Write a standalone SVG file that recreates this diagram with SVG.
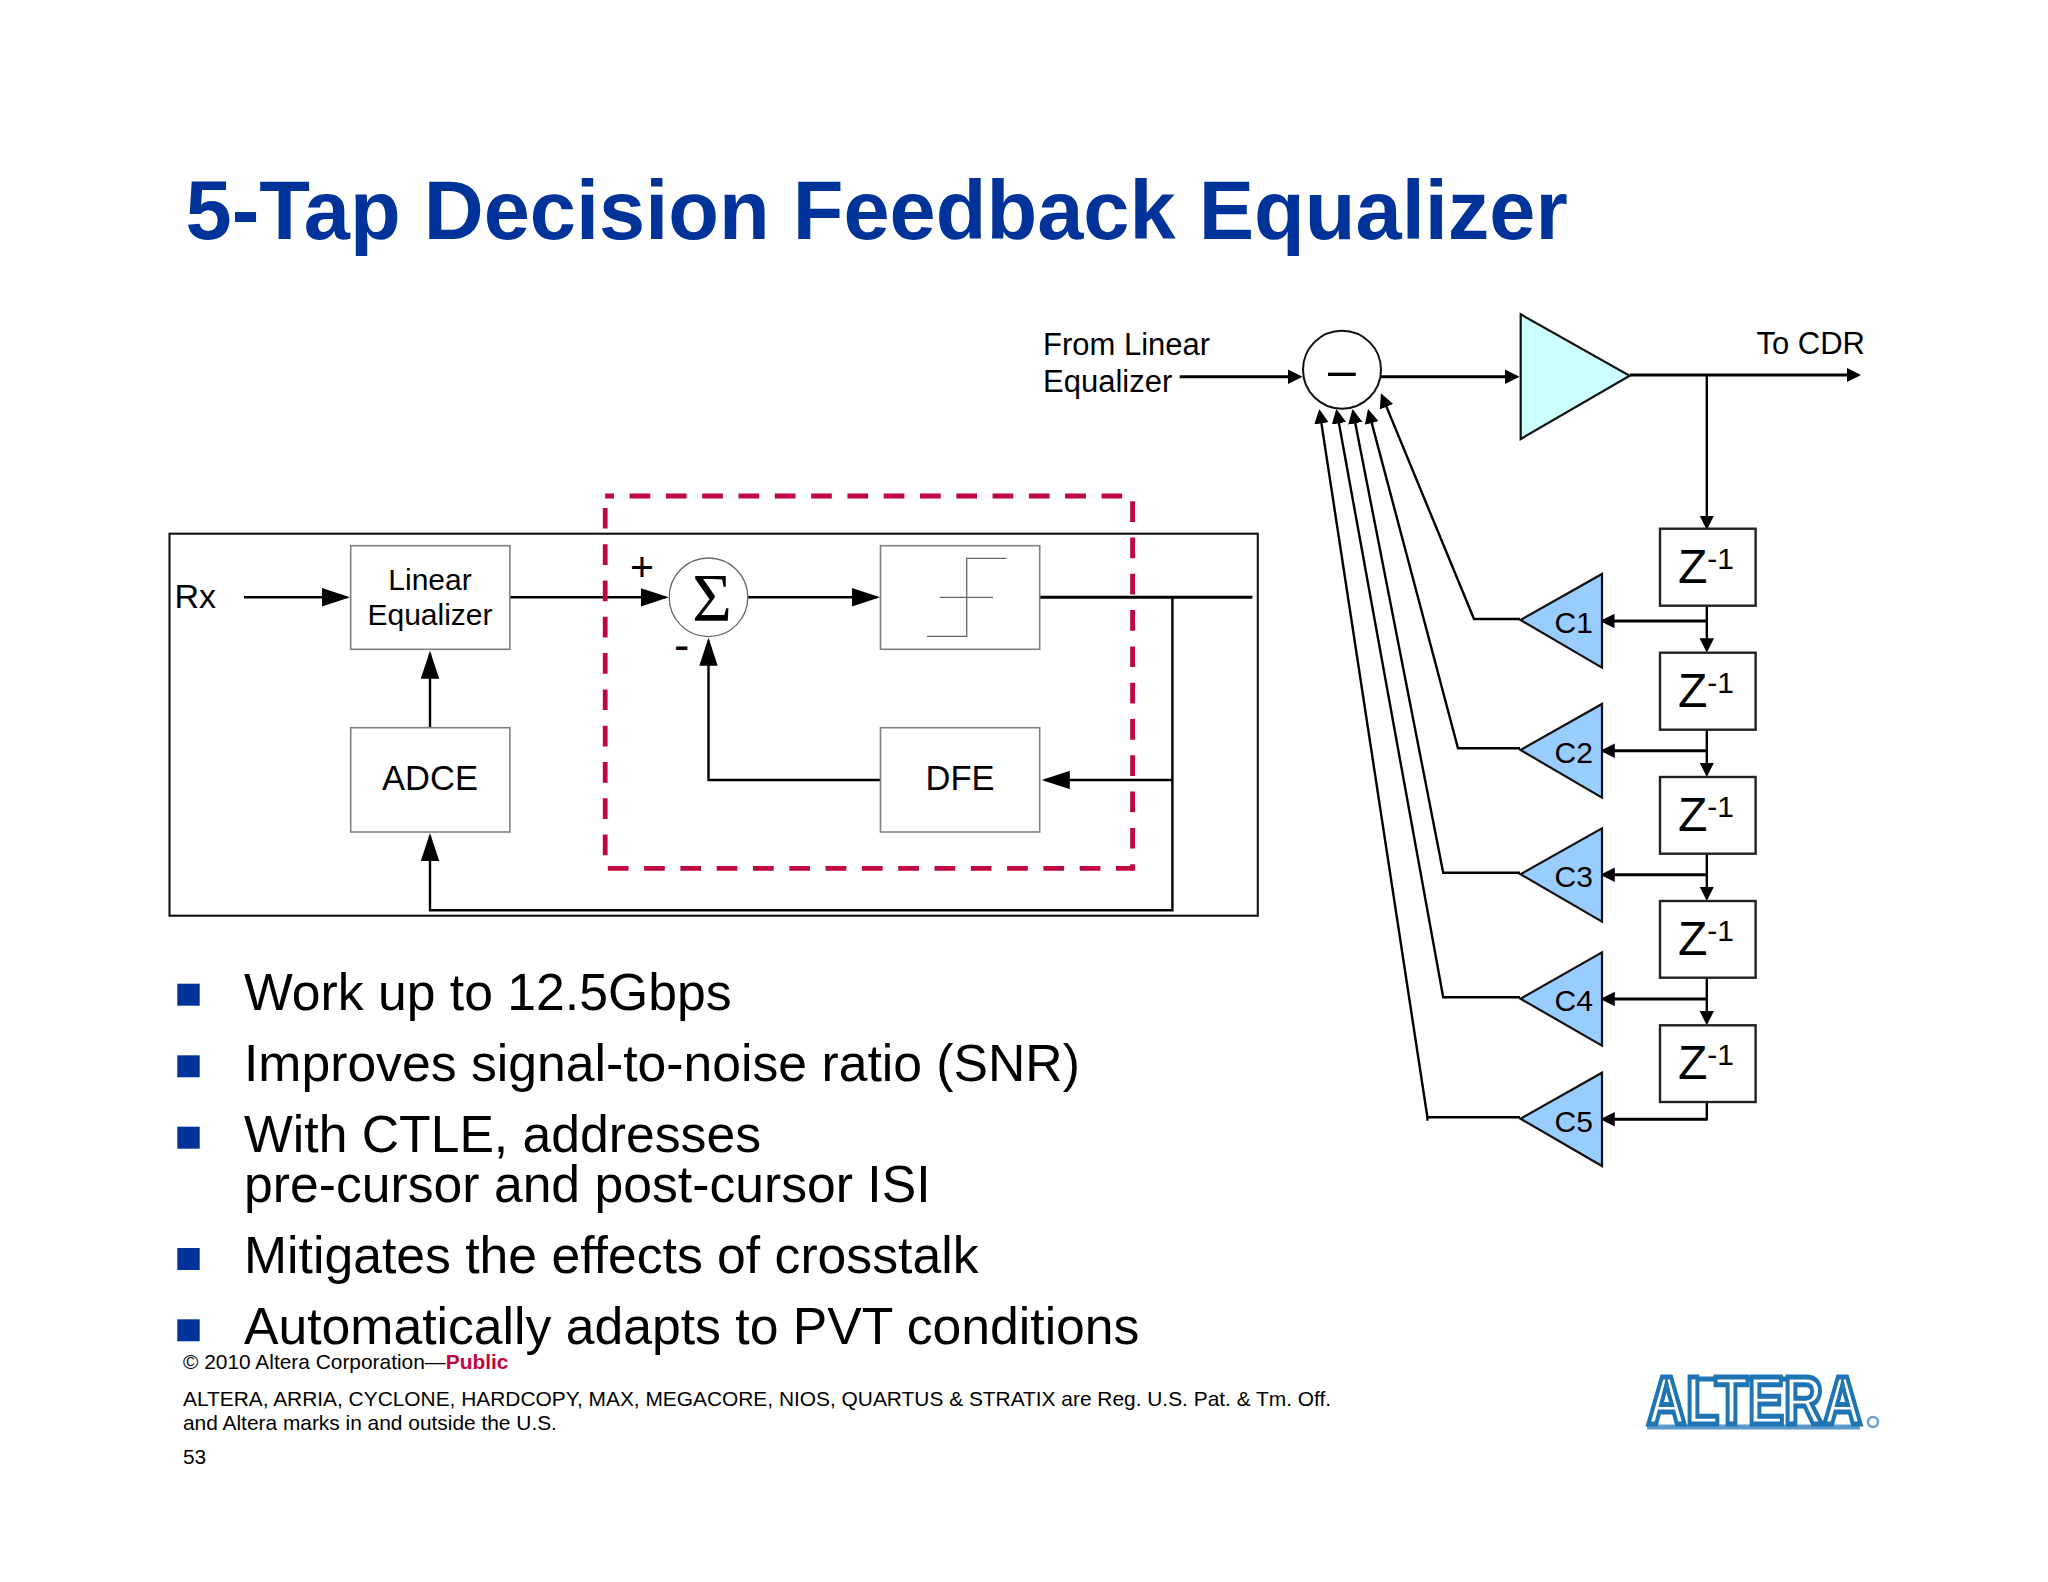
<svg xmlns="http://www.w3.org/2000/svg" width="2048" height="1582" viewBox="0 0 2048 1582">
<style>
text{font-family:"Liberation Sans",Arial,sans-serif;fill:#000}
.title{font-size:83px;font-weight:700;fill:#003399}
.bul{font-size:51.7px}
.foot{font-size:20.9px}
.lbl{font-size:31px}
.eq{font-size:30px}
.big{font-size:34.5px}
.m{text-anchor:middle}
.box{fill:#fff;stroke:#808080;stroke-width:1.6}
.zbox{fill:#fff;stroke:#222;stroke-width:2.4}
.tap{fill:#99ccff;stroke:#111;stroke-width:2.2}
.taptxt{font-size:30px}
.z{font-size:48px}
.zs{font-size:30px}
.sq{fill:#003399}
.c path,.c polyline,.c line{fill:none;stroke:#000}
.w1{stroke-width:2.4}
.w2{stroke-width:3}
.thin{fill:none;stroke:#666;stroke-width:1.3}
</style>
<defs>
<marker id="s" markerUnits="userSpaceOnUse" markerWidth="16" markerHeight="16" refX="11.5" refY="7.25" orient="auto"><path d="M0,0L14.5,7.25L0,14.5Z" fill="#000"/></marker>
<marker id="l" markerUnits="userSpaceOnUse" markerWidth="30" markerHeight="20" refX="25" refY="9.2" orient="auto"><path d="M0,0L28,9.2L0,18.4Z" fill="#000"/></marker>
</defs>
<rect width="2048" height="1582" fill="#fff"/>
<text class="title" x="185.5" y="238.5">5-Tap Decision Feedback Equalizer</text>

<g id="outer-frame"><rect x="169.5" y="533.7" width="1088.3" height="382" fill="none" stroke="#111" stroke-width="2.1"/></g>

<g id="connectors" class="c">
<path class="w1" d="M244,597.3H347" marker-end="url(#l)"/>
<path class="w1" d="M510,597.3H665.7" marker-end="url(#l)"/>
<path class="w1" d="M748,597.3H877" marker-end="url(#l)"/>
<path class="w2" d="M1040,597.3H1252.4"/>
<path class="w1" d="M430,727.7V653.7" marker-end="url(#l)"/>
<path class="w1" d="M1172.4,597.3V910.3H430V836" marker-end="url(#l)"/>
<path class="w1" d="M1172.4,780H1044.8" marker-end="url(#l)"/>
<path class="w1" d="M880.5,780H708.5V640.7" marker-end="url(#l)"/>
<path class="w2" d="M1179.7,376.7H1299.5" marker-end="url(#s)"/>
<path class="w2" d="M1381,376.7H1516.5" marker-end="url(#s)"/>
<path class="w2" d="M1630,375H1858" marker-end="url(#s)"/>
<path class="w1" d="M1706.8,375V527" marker-end="url(#s)"/>
<path class="w1" d="M1706.8,605.7V649.7" marker-end="url(#s)"/>
<path class="w1" d="M1706.8,729.7V774" marker-end="url(#s)"/>
<path class="w1" d="M1706.8,853.7V898" marker-end="url(#s)"/>
<path class="w1" d="M1706.8,977.7V1022.3" marker-end="url(#s)"/>
<path class="w1" d="M1706.8,1102V1120.5"/>
<path class="w2" d="M1706.8,621H1603" marker-end="url(#s)"/>
<path class="w2" d="M1706.8,750.7H1603.3" marker-end="url(#s)"/>
<path class="w2" d="M1706.8,874.7H1603.3" marker-end="url(#s)"/>
<path class="w2" d="M1706.8,999H1603.3" marker-end="url(#s)"/>
<path class="w2" d="M1706.8,1119.3H1603.3" marker-end="url(#s)"/>
<path class="w1" d="M1520,619H1474L1382.1,396.1" marker-end="url(#s)"/>
<path class="w1" d="M1520,748.3H1458L1368.8,411.9" marker-end="url(#s)"/>
<path class="w1" d="M1520,872.7H1443.2L1353.1,412" marker-end="url(#s)"/>
<path class="w1" d="M1520,997.3H1443.2L1336.9,412" marker-end="url(#s)"/>
<path class="w1" d="M1520,1117.3H1427.4L1319.7,412" marker-end="url(#s)"/>
<path class="w1" d="M1427.4,1117.3V1120.7"/>
</g>

<g id="rx-label"><text x="174.5" y="608" font-size="34">Rx</text></g>
<g id="linear-equalizer"><rect class="box" x="350.7" y="545.7" width="159.2" height="103.6"/><text class="eq m" x="430" y="590">Linear</text><text class="eq m" x="430" y="625">Equalizer</text></g>
<g id="adce"><rect class="box" x="350.7" y="727.7" width="159.2" height="104.3"/><text class="big m" x="430" y="790">ADCE</text></g>
<g id="sum"><circle cx="708.5" cy="597.3" r="39.3" fill="#fff" stroke="#666" stroke-width="1.3"/><text class="m" x="712" y="620" font-size="68" style="font-family:'Liberation Serif',serif">Σ</text></g>
<g id="plus"><text class="m" x="642" y="581" font-size="41">+</text></g>
<g id="minus"><text class="m" x="681.7" y="661" font-size="46">-</text></g>
<g id="slicer"><rect class="box" x="880.5" y="545.7" width="159.2" height="103.6"/><path class="thin" d="M927,636.3H966.7V558.3H1006.5M940,597.3H993"/></g>
<g id="dfe"><rect class="box" x="880.5" y="727.7" width="159.2" height="104.3"/><text class="big m" x="960" y="790">DFE</text></g>
<g id="dashed-region"><rect x="605.2" y="496" width="527.4" height="372.3" fill="none" stroke="#c0063f" stroke-width="4.8" stroke-dasharray="20.7 15.6" stroke-dashoffset="11.9"/></g>

<g id="from-linear"><text class="lbl" x="1043" y="355">From Linear</text><text class="lbl" x="1043" y="392">Equalizer</text></g>
<g id="subtractor"><circle cx="1342" cy="369.7" r="39" fill="#fff" stroke="#111" stroke-width="2"/><text class="m" x="1342" y="386.5" font-size="50">–</text></g>
<g id="amp"><path d="M1520.7,314.3L1629.7,375.7L1520.7,439Z" fill="#ccffff" stroke="#111" stroke-width="2.2"/></g>
<g id="to-cdr"><text class="lbl" x="1865" y="354" text-anchor="end">To CDR</text></g>

<g id="z1"><rect class="zbox" x="1660" y="528.7" width="95.6" height="77"/><text x="1678" y="582.7" class="z">Z<tspan class="zs" dy="-14">-1</tspan></text></g>
<g id="z2"><rect class="zbox" x="1660" y="652.7" width="95.6" height="77"/><text x="1678" y="706.7" class="z">Z<tspan class="zs" dy="-14">-1</tspan></text></g>
<g id="z3"><rect class="zbox" x="1660" y="777" width="95.6" height="76.7"/><text x="1678" y="831" class="z">Z<tspan class="zs" dy="-14">-1</tspan></text></g>
<g id="z4"><rect class="zbox" x="1660" y="901" width="95.6" height="76.7"/><text x="1678" y="955" class="z">Z<tspan class="zs" dy="-14">-1</tspan></text></g>
<g id="z5"><rect class="zbox" x="1660" y="1025.3" width="95.6" height="76.7"/><text x="1678" y="1079.3" class="z">Z<tspan class="zs" dy="-14">-1</tspan></text></g>

<g id="c1"><path class="tap" d="M1520.5,620L1602,574V667.7Z"/><text class="taptxt" x="1554.5" y="633">C1</text></g>
<g id="c2"><path class="tap" d="M1520.5,750L1602,704V797.7Z"/><text class="taptxt" x="1554.5" y="762.7">C2</text></g>
<g id="c3"><path class="tap" d="M1520.5,874.3L1602,828.3V921.7Z"/><text class="taptxt" x="1554.5" y="887">C3</text></g>
<g id="c4"><path class="tap" d="M1520.5,998.7L1602,952.3V1045.7Z"/><text class="taptxt" x="1554.5" y="1011.3">C4</text></g>
<g id="c5"><path class="tap" d="M1520.5,1118.7L1602,1072.7V1166Z"/><text class="taptxt" x="1554.5" y="1131.5">C5</text></g>

<g id="bullets">
<rect class="sq" x="177.3" y="983.7" width="22.4" height="22"/>
<rect class="sq" x="177.3" y="1055.3" width="22.4" height="22"/>
<rect class="sq" x="177.3" y="1126.7" width="22.4" height="22"/>
<rect class="sq" x="177.3" y="1248" width="22.4" height="22"/>
<rect class="sq" x="177.3" y="1319.3" width="22.4" height="22"/>
<text class="bul" x="244" y="1009.5">Work up to 12.5Gbps</text>
<text class="bul" x="244" y="1081">Improves signal-to-noise ratio (SNR)</text>
<text class="bul" x="244" y="1152.3">With CTLE, addresses</text>
<text class="bul" x="244" y="1201.7">pre-cursor and post-cursor ISI</text>
<text class="bul" x="244" y="1273">Mitigates the effects of crosstalk</text>
<text class="bul" x="244" y="1344.3">Automatically adapts to PVT conditions</text>
</g>

<g id="footer">
<text class="foot" x="183" y="1369.3">© 2010 Altera Corporation—<tspan font-weight="700" style="fill:#c0063f">Public</tspan></text>
<text class="foot" x="183" y="1405.7">ALTERA, ARRIA, CYCLONE, HARDCOPY, MAX, MEGACORE, NIOS, QUARTUS &amp; STRATIX are Reg. U.S. Pat. &amp; Tm. Off.</text>
<text class="foot" x="183" y="1430.3">and Altera marks in and outside the U.S.</text>
<text class="foot" x="183" y="1463.7">53</text>
</g>

<g id="logo">
<path d="M1647,1427H1860" fill="none" stroke="#5a9bcb" stroke-width="5"/>
<path d="M1693,1379H1810" fill="none" stroke="#1f74b3" stroke-width="5"/>
<text x="1647" y="1424" font-size="68" font-weight="700" textLength="215" lengthAdjust="spacingAndGlyphs" style="fill:#fff;stroke:#1f74b3;stroke-width:5">ALTERA</text>
<circle cx="1873" cy="1422" r="5" fill="none" stroke="#6aa3cf" stroke-width="2.5"/>
</g>
</svg>
